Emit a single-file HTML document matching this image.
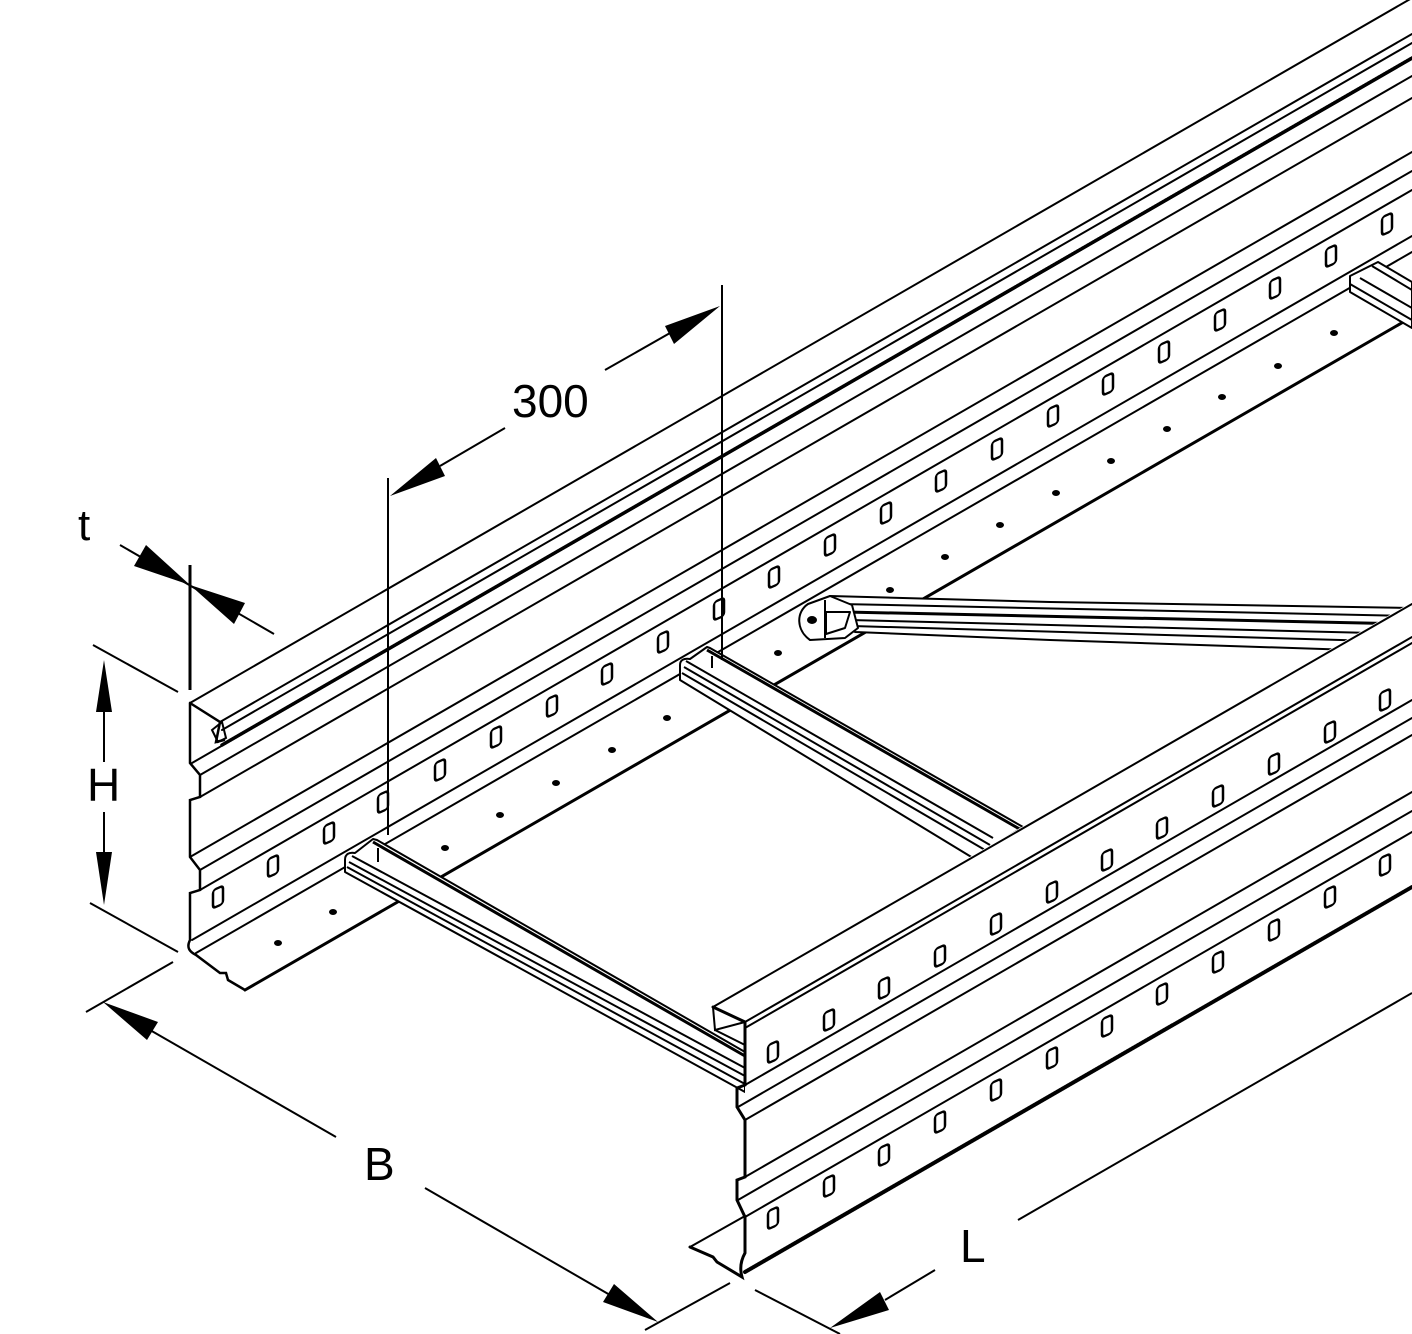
<!DOCTYPE html>
<html><head><meta charset="utf-8"><style>
html,body{margin:0;padding:0;background:#fff;}
svg{display:block;}
text{font-family:"Liberation Sans",sans-serif;fill:#000;}
</style></head><body>
<svg width="1412" height="1334" viewBox="0 0 1412 1334" xmlns="http://www.w3.org/2000/svg">
<defs>
<g id="s"><rect x="-5" y="-9" width="10" height="18" rx="3" transform="skewY(-25)" fill="#fff" stroke="#000" stroke-width="2.5"/></g>
</defs>
<g stroke="#000" stroke-width="2" fill="none" stroke-linecap="round">
<line x1="190" y1="703" x2="1412" y2="-2"/>
<line x1="220" y1="722" x2="1412" y2="34"/>
<line x1="222" y1="730" x2="1412" y2="43"/>
<line x1="222" y1="745" x2="1412" y2="58" stroke-width="3.5" stroke-dasharray="2 1"/>
<line x1="192" y1="763" x2="1412" y2="59"/>
<line x1="200" y1="775" x2="1412" y2="76"/>
<line x1="200" y1="797" x2="1412" y2="98"/>
<line x1="190" y1="857" x2="1412" y2="152"/>
<line x1="200" y1="870" x2="1412" y2="171"/>
<line x1="200" y1="890" x2="1412" y2="190"/>
<line x1="192" y1="940" x2="1412" y2="236"/>
<line x1="196" y1="953" x2="1412" y2="252"/>
<path d="M190,703 L220,722 L216,742 L224,740 M190,703 L190,763 L200,775 L200,797 L190,800 L190,857 L200,870 L200,890 L190,893 L190,940 C186,948 190,952 196,955 L220,973 L226,973 L228,980 L245,990" stroke-width="2.5"/>
<path d="M212,730 L222,722 L226,738 L218,742 Z" stroke-width="2"/>
<line x1="245" y1="990" x2="1412" y2="317" stroke-width="3"/>
<g fill="#000" stroke="none">
<ellipse cx="278" cy="943" rx="4" ry="3"/><ellipse cx="333" cy="912" rx="4" ry="3"/>
<ellipse cx="445" cy="848" rx="4" ry="3"/><ellipse cx="500" cy="815" rx="4" ry="3"/>
<ellipse cx="556" cy="783" rx="4" ry="3"/><ellipse cx="612" cy="750" rx="4" ry="3"/>
<ellipse cx="667" cy="718" rx="4" ry="3"/><ellipse cx="778" cy="653" rx="4" ry="3"/>
<ellipse cx="890" cy="590" rx="4" ry="3"/><ellipse cx="945" cy="557" rx="4" ry="3"/>
<ellipse cx="1000" cy="525" rx="4" ry="3"/><ellipse cx="1056" cy="493" rx="4" ry="3"/>
<ellipse cx="1111" cy="461" rx="4" ry="3"/><ellipse cx="1167" cy="429" rx="4" ry="3"/>
<ellipse cx="1222" cy="397" rx="4" ry="3"/><ellipse cx="1278" cy="366" rx="4" ry="3"/>
<ellipse cx="1334" cy="333" rx="4" ry="3"/>
</g>
</g>
<g>
<use href="#s" x="383" y="802"/><use href="#s" x="440" y="770"/><use href="#s" x="496" y="737"/>
<use href="#s" x="552" y="706"/><use href="#s" x="607" y="674"/><use href="#s" x="663" y="642"/>
<use href="#s" x="719" y="609"/><use href="#s" x="774" y="577"/><use href="#s" x="830" y="545"/>
<use href="#s" x="886" y="513"/><use href="#s" x="941" y="481"/><use href="#s" x="997" y="449"/>
<use href="#s" x="1053" y="416"/><use href="#s" x="1108" y="384"/><use href="#s" x="1164" y="352"/>
<use href="#s" x="1220" y="320"/><use href="#s" x="1275" y="288"/><use href="#s" x="1331" y="256"/>
<use href="#s" x="1387" y="224"/>
<use href="#s" x="218" y="897"/><use href="#s" x="273" y="866"/><use href="#s" x="329" y="833"/>
</g>
<g stroke="#000" stroke-width="2" fill="#fff" stroke-linejoin="round">
<path d="M830,596 L1050,602 L1412,608 L1412,652 L1050,640 L855,632 Z"/>
<line x1="840" y1="604" x2="1412" y2="616" fill="none"/>
<line x1="845" y1="612" x2="1412" y2="624" fill="none" stroke-width="3"/>
<line x1="850" y1="620" x2="1412" y2="634" fill="none"/>
<line x1="852" y1="626" x2="1412" y2="642" fill="none"/>
<path d="M808,604 L830,596 L852,605 L858,628 L845,638 L810,640 C796,630 796,612 808,604 Z"/>
<line x1="825" y1="600" x2="825" y2="638"/>
<ellipse cx="812" cy="620" rx="4" ry="3" fill="#000"/>
<path d="M826,612 L850,612 L845,628 L826,634 Z"/>
<path d="M1350,276 L1378,262 L1412,282 L1412,328 L1350,292 Z"/>
<line x1="1350" y1="284" x2="1412" y2="320"/>
<line x1="1372" y1="266" x2="1412" y2="290"/>
<line x1="1360" y1="278" x2="1412" y2="308"/>
<path d="M680,665 C680,660 684,658 690,659 L707,647 L710,648 L1023,827 L973,858 L680,680 Z"/>
<line x1="707" y1="650" x2="1023" y2="831" stroke-width="3"/>
<line x1="686" y1="661" x2="993" y2="838"/>
<line x1="684" y1="667" x2="990" y2="845"/>
<line x1="682" y1="673" x2="985" y2="850"/>
<line x1="712" y1="656" x2="712" y2="668"/>
<path d="M345,860 C345,854 349,852 355,853 L373,839 L377,840 L745,1052 L745,1092 L345,872 Z"/>
<line x1="373" y1="842" x2="745" y2="1056" stroke-width="3"/>
<line x1="352" y1="856" x2="745" y2="1068"/>
<line x1="349" y1="862" x2="745" y2="1076"/>
<line x1="347" y1="867" x2="745" y2="1084"/>
<line x1="378" y1="848" x2="378" y2="862"/>
<path d="M713,1005 L1412,602 L1412,892 L742,1278 L690,1247 L745,1217 L745,1040 L713,1030 Z" stroke="none"/>
</g>
<g stroke="#000" stroke-width="2" fill="none" stroke-linecap="round">
<line x1="713" y1="1007" x2="1412" y2="604"/>
<line x1="745" y1="1022" x2="1412" y2="637"/>
<line x1="745" y1="1028" x2="1412" y2="643"/>
<line x1="745" y1="1085" x2="1412" y2="700"/>
<line x1="738" y1="1107" x2="1412" y2="718"/>
<line x1="745" y1="1120" x2="1412" y2="735"/>
<line x1="745" y1="1177" x2="1412" y2="792"/>
<line x1="738" y1="1200" x2="1412" y2="811"/>
<line x1="745" y1="1217" x2="1412" y2="832"/>
<line x1="745" y1="1272" x2="1412" y2="887" stroke-width="4" stroke-dasharray="2 1"/>
<line x1="690" y1="1247" x2="745" y2="1216"/>
<path d="M713,1007 L745,1022 L745,1085 L737,1088 L737,1107 L745,1120 L745,1177 L737,1180 L737,1200 L745,1217 L745,1253 C740,1262 740,1270 742,1277 L717,1262 L713,1257 L690,1247" stroke-width="3"/>
<path d="M713,1007 L715,1030 L745,1022 M715,1030 L745,1045" stroke-width="2"/>
</g>
<g>
<use href="#s" x="773" y="1052"/><use href="#s" x="829" y="1020"/><use href="#s" x="884" y="988"/>
<use href="#s" x="940" y="956"/><use href="#s" x="996" y="924"/><use href="#s" x="1052" y="892"/>
<use href="#s" x="1107" y="860"/><use href="#s" x="1162" y="828"/><use href="#s" x="1218" y="796"/>
<use href="#s" x="1274" y="764"/><use href="#s" x="1330" y="732"/><use href="#s" x="1385" y="700"/>
<use href="#s" x="773" y="1218"/><use href="#s" x="829" y="1186"/><use href="#s" x="884" y="1155"/>
<use href="#s" x="940" y="1122"/><use href="#s" x="996" y="1090"/><use href="#s" x="1052" y="1058"/>
<use href="#s" x="1107" y="1026"/><use href="#s" x="1162" y="994"/><use href="#s" x="1218" y="962"/>
<use href="#s" x="1274" y="930"/><use href="#s" x="1330" y="897"/><use href="#s" x="1385" y="865"/>
</g>
<g stroke="#000" stroke-width="2" fill="none">
<line x1="120" y1="545" x2="274" y2="634"/>
<line x1="190" y1="565" x2="190" y2="690" stroke-width="3"/>
<line x1="93" y1="645" x2="178" y2="692"/>
<line x1="90" y1="903" x2="178" y2="952"/>
<line x1="104" y1="700" x2="104" y2="762"/>
<line x1="104" y1="812" x2="104" y2="860"/>
<line x1="86" y1="1012" x2="173" y2="962"/>
<line x1="150" y1="1030" x2="336" y2="1137"/>
<line x1="425" y1="1188" x2="610" y2="1295"/>
<line x1="645" y1="1330" x2="730" y2="1283"/>
<line x1="755" y1="1290" x2="840" y2="1334"/>
<line x1="885" y1="1300" x2="935" y2="1270"/>
<line x1="1018" y1="1220" x2="1412" y2="993"/>
<line x1="388" y1="478" x2="388" y2="835"/>
<line x1="722" y1="285" x2="722" y2="660"/>
<line x1="440" y1="466" x2="505" y2="428"/>
<line x1="605" y1="370" x2="670" y2="333"/>
</g>
<g fill="#000" stroke="none">
<polygon points="190,585 134,566 146,545"/>
<polygon points="190,585 245,603 234,624"/>
<polygon points="104,660 96,712 112,712"/>
<polygon points="104,905 96,852 112,852"/>
<polygon points="103,1002 158,1022 147,1040"/>
<polygon points="658,1322 603,1302 614,1284"/>
<polygon points="830,1328 880,1292 889,1310"/>
<polygon points="390,496 436,458 445,476"/>
<polygon points="720,306 674,344 665,326"/>
</g>
<text x="78" y="540" font-size="44">t</text>
<text x="87" y="801" font-size="46">H</text>
<text x="364" y="1180" font-size="46">B</text>
<text x="960" y="1262" font-size="46">L</text>
<text x="512" y="417" font-size="46">300</text>
</svg>
</body></html>
